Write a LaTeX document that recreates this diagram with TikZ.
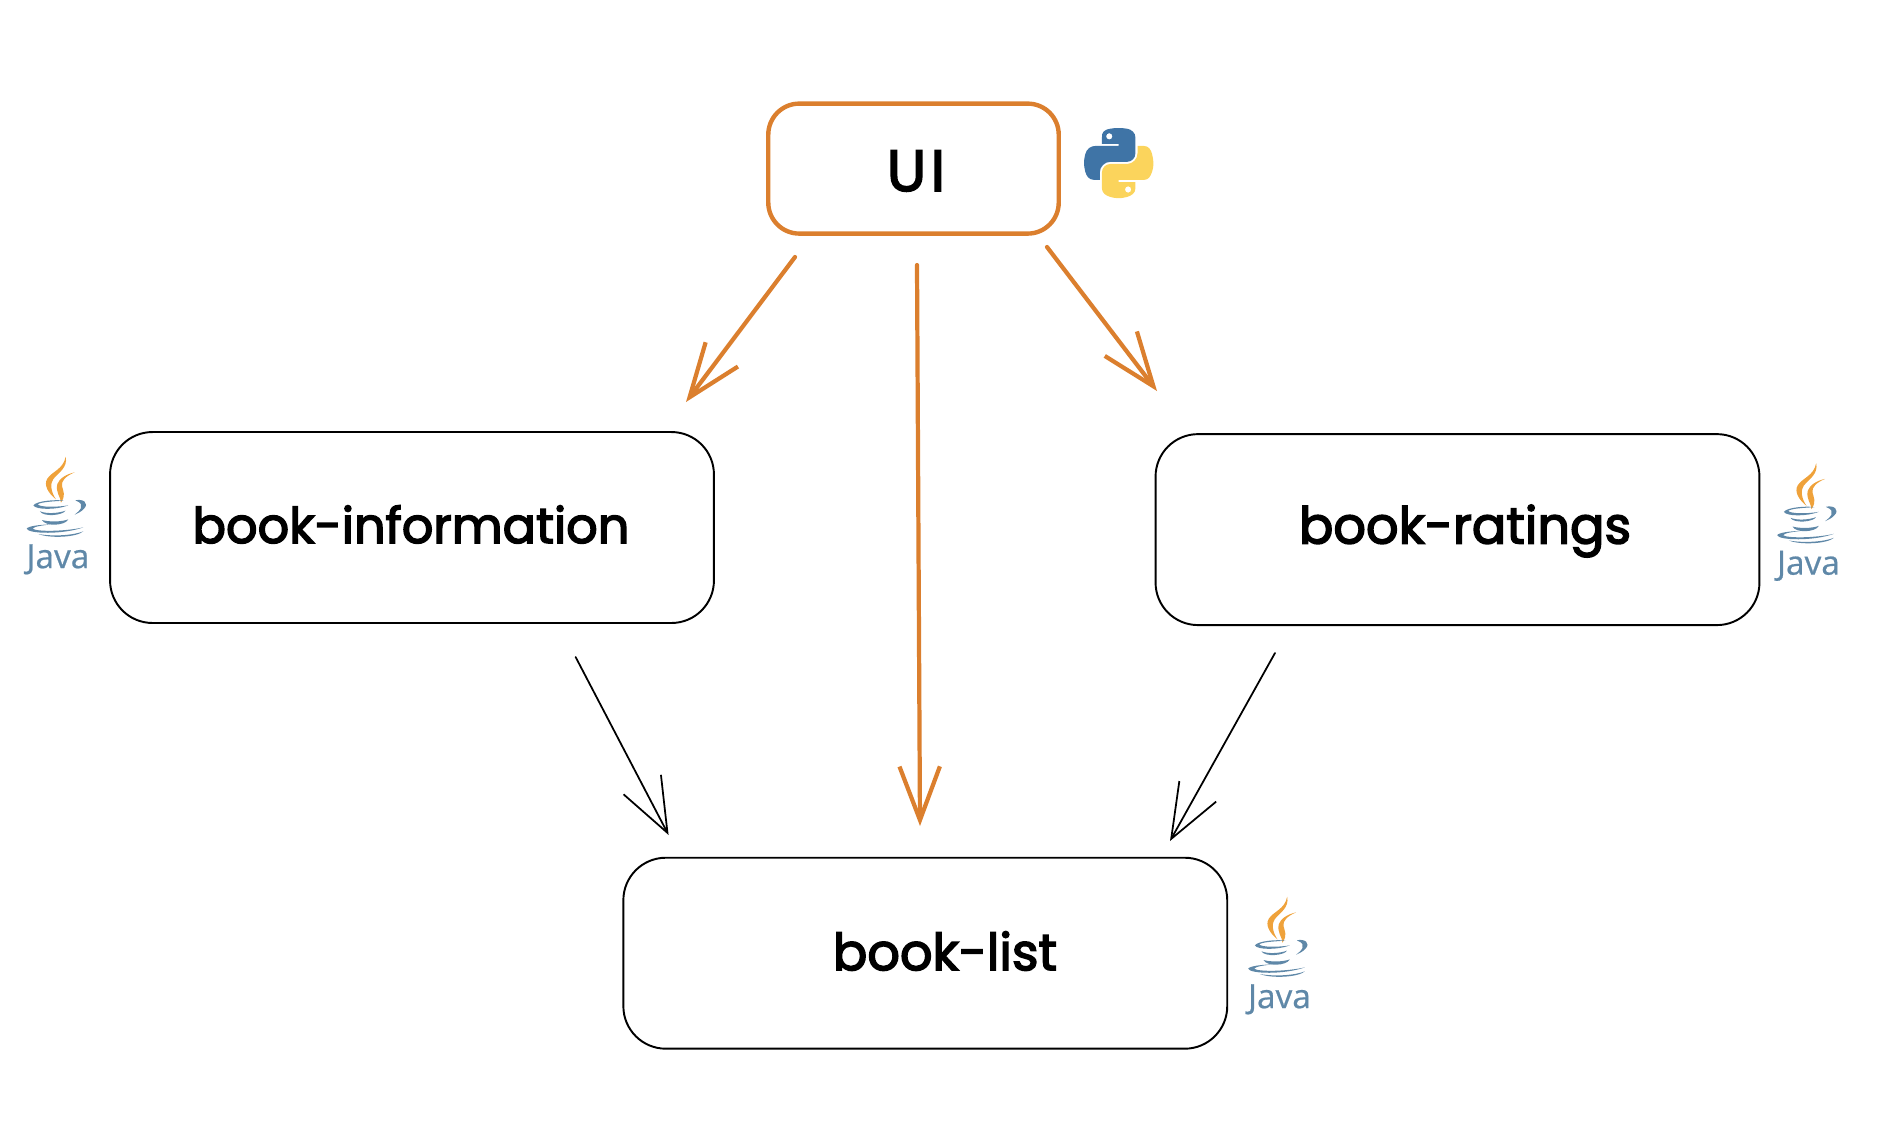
\documentclass[tikz,border=0pt]{standalone}
\usepackage{fontspec}
\setmainfont{Poppins}
\newfontfamily\javafont{Open Sans}
\usetikzlibrary{arrows.meta}
\definecolor{flow}{HTML}{DB7F2E}
\definecolor{pyblue}{HTML}{3F74A6}
\definecolor{pyyellow}{HTML}{FBD45C}
\definecolor{jvorange}{HTML}{EFA23B}
\definecolor{jvblue}{HTML}{5F88A8}
\tikzset{
  x=0.02cm,y=-0.02cm,
  box/.style={draw=black,line width=1.1pt,rounded corners=0.85cm,minimum width=12.08cm,minimum height=3.82cm,inner sep=0pt},
  uibox/.style={draw=flow,line width=2.5pt,rounded corners=0.62cm,minimum width=5.81cm,minimum height=2.6cm,inner sep=0pt},
  caption/.style={font=\fontsize{29}{32}\selectfont\addfontfeatures{FakeBold=3},text=black,inner sep=0pt},
  widecaption/.style={font=\fontsize{28.1}{32}\selectfont\addfontfeatures{FakeBold=3},text=black,inner sep=0pt},
  uicaption/.style={font=\fontsize{33}{36}\selectfont\addfontfeatures{FakeBold=3,LetterSpace=8},text=black,inner sep=0pt},
  flowarrow/.style={draw=flow,line width=2.4pt,line cap=round,-{Straight Barb[length=30.5pt,width=23pt,line width=2.4pt]}},
  plainarrow/.style={draw=black,line width=1pt,line cap=round,-{Straight Barb[length=31pt,width=24pt,line width=1pt]}},
  javatext/.style={font=\javafont\fontsize{19}{21}\selectfont\addfontfeatures{FakeBold=0.6},text=jvblue,inner sep=0pt}
}
\newcommand{\javaicon}[3]{%
\begin{scope}[shift={(#1,#2)},x=0.02cm/3,y=-0.02cm/3]
  \fill[jvorange] (197,80) .. controls (204,112) and (176,128) .. (160,147) .. controls (150,160) and (152,185) .. (168,208) .. controls (145,190) and (130,165) .. (142,146) .. controls (156,124) and (190,118) .. (197,80) -- cycle;
  \fill[jvorange] (224,127) .. controls (198,138) and (183,152) .. (186,168) .. controls (190,185) and (198,195) .. (183,218) .. controls (182,200) and (166,188) .. (172,162) .. controls (178,145) and (200,132) .. (224,127) -- cycle;
  \fill[jvblue] (100,226) .. controls (110,212) and (170,208) .. (192,212) .. controls (160,214) and (122,216) .. (113,223) .. controls (120,232) and (170,232) .. (205,226) .. controls (170,240) and (108,240) .. (100,226) -- cycle;
  \fill[jvblue] (226,211) .. controls (250,205) and (268,220) .. (252,236) .. controls (245,245) and (232,250) .. (224,254) .. controls (236,244) and (262,225) .. (226,211) -- cycle;
  \fill[jvblue] (120,244) .. controls (140,252) and (175,250) .. (196,242) .. controls (190,256) and (130,262) .. (120,244) -- cycle;
  \fill[jvblue] (126,270) .. controls (145,276) and (185,276) .. (205,268) .. controls (195,288) and (135,290) .. (126,270) -- cycle;
  \fill[jvblue] (153,283) .. controls (120,284) and (85,288) .. (80,296) .. controls (85,312) and (190,314) .. (250,292) .. controls (200,304) and (110,306) .. (98,296) .. controls (102,289) and (130,286) .. (153,283) -- cycle;
  \fill[jvblue] (115,312) .. controls (160,320) and (220,316) .. (250,304) .. controls (230,322) and (150,326) .. (115,312) -- cycle;
  \node[javatext,anchor=center] (#3) at (174,388) {Java};
\end{scope}}
\newcommand{\pythonicon}[2]{%
\begin{scope}[shift={(#1,#2)},x=0.0125cm,y=-0.0125cm]
  \fill[pyblue,even odd rule] (54.92,0) .. controls (50.34,0.02) and (45.96,0.41) .. (42.11,1.09) .. controls (30.76,3.10) and (28.70,7.29) .. (28.70,15.03) -- (28.70,25.25) -- (55.51,25.25) -- (55.51,28.66) -- (18.64,28.66) .. controls (10.85,28.66) and (4.02,33.34) .. (1.89,42.25) .. controls (-0.57,52.46) and (-0.68,58.84) .. (1.89,69.49) .. controls (3.79,77.42) and (8.35,83.06) .. (16.14,83.06) -- (25.36,83.06) -- (25.36,70.81) .. controls (25.36,61.96) and (33.01,54.16) .. (42.11,54.16) -- (68.89,54.16) .. controls (76.34,54.16) and (82.29,48.02) .. (82.29,40.53) -- (82.29,15.03) .. controls (82.29,7.78) and (76.17,2.32) .. (68.89,1.09) .. controls (64.28,0.33) and (59.50,-0.02) .. (54.92,0) -- cycle
  (40.42,8.22) .. controls (43.19,8.22) and (45.45,10.52) .. (45.45,13.34) .. controls (45.45,16.16) and (43.19,18.44) .. (40.42,18.44) .. controls (37.64,18.44) and (35.39,16.16) .. (35.39,13.34) .. controls (35.39,10.52) and (37.64,8.22) .. (40.42,8.22) -- cycle;
  \fill[pyyellow,even odd rule] (85.64,28.66) -- (85.64,40.56) .. controls (85.64,49.79) and (77.81,57.56) .. (68.89,57.56) -- (42.11,57.56) .. controls (34.77,57.56) and (28.70,63.84) .. (28.70,71.19) -- (28.70,96.72) .. controls (28.70,103.99) and (35.02,108.26) .. (42.11,110.34) .. controls (50.59,112.84) and (58.73,113.29) .. (68.89,110.34) .. controls (75.64,108.39) and (82.29,104.46) .. (82.29,96.72) -- (82.29,86.50) -- (55.51,86.50) -- (55.51,83.09) -- (95.70,83.09) .. controls (103.49,83.09) and (106.39,77.66) .. (109.11,69.50) .. controls (111.91,61.10) and (111.79,53.02) .. (109.11,42.25) .. controls (107.18,34.49) and (103.50,28.66) .. (95.70,28.66) -- cycle
  (70.58,93.31) .. controls (73.35,93.31) and (75.61,95.59) .. (75.61,98.41) .. controls (75.61,101.23) and (73.35,103.53) .. (70.58,103.53) .. controls (67.81,103.53) and (65.54,101.23) .. (65.54,98.41) .. controls (65.54,95.59) and (67.81,93.31) .. (70.58,93.31) -- cycle;
\end{scope}}
\begin{document}
\begin{tikzpicture}
  \useasboundingbox (0,0) rectangle (1890,1144);
  % boxes
  \node[uibox] (ui) at (913.5,168.6) {};
  \node[box] (info) at (412,527.5) {};
  \node[box] (ratings) at (1457.5,529.6) {};
  \node[box] (list) at (925.3,953.2) {};
  % captions
  \node[uicaption] (uiText) at (916,171) {UI};
  \node[widecaption] (infoText) at (411,524.4) {book-information};
  \node[caption] (ratingsText) at (1465,531) {book-ratings};
  \node[caption] (listText) at (945,951) {book-list};
  % connector ends
  \coordinate (uiA) at (795,257);
  \coordinate (infoIn) at (686,402);
  \coordinate (uiB) at (917,265);
  \coordinate (listInB) at (920,826);
  \coordinate (uiC) at (1047,247);
  \coordinate (ratingsIn) at (1157,391);
  \coordinate (infoOut) at (575.6,657);
  \coordinate (listInA) at (668.6,835);
  \coordinate (ratingsOut) at (1275,653);
  \coordinate (listInC) at (1170,841);
  % connectors
  \draw[flowarrow] (uiA) -- (infoIn);
  \draw[flowarrow] (uiB) -- (listInB);
  \draw[flowarrow] (uiC) -- (ratingsIn);
  \draw[plainarrow] (infoOut) -- (listInA);
  \draw[plainarrow] (ratingsOut) -- (listInC);
  % icons
  \pythonicon{1084}{128}
  \javaicon{0}{430}{javaInfo}
  \javaicon{1750.5}{436.5}{javaRatings}
  \javaicon{1221.5}{870}{javaList}
\end{tikzpicture}
\end{document}
